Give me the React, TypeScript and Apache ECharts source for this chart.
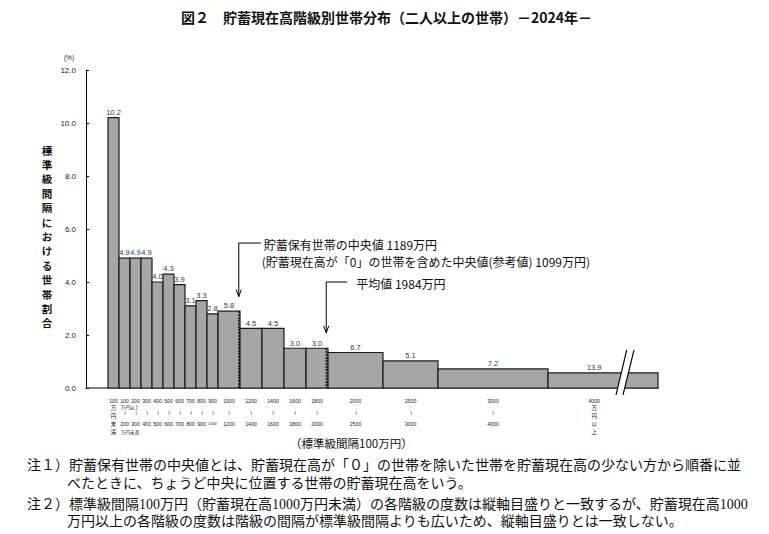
import React, { useEffect, useRef } from "react";
import * as echarts from "echarts";

// ---- data (万円 classes, share %) ----
const classLower = [0, 100, 200, 300, 400, 500, 600, 700, 800, 900, 1000, 1200, 1400, 1600, 1800, 2000, 2500, 3000, 4000];
const classUpper = [100, 200, 300, 400, 500, 600, 700, 800, 900, 1000, 1200, 1400, 1600, 1800, 2000, 2500, 3000, 4000, 5000];
const sharePct = [10.2, 4.9, 4.9, 4.9, 4.0, 4.3, 3.9, 3.1, 3.3, 2.8, 5.8, 4.5, 4.5, 3.0, 3.0, 6.7, 5.1, 7.2, 13.9];
const barHeight = [10.2, 4.9, 4.9, 4.9, 4.0, 4.3, 3.9, 3.1, 3.3, 2.8, 2.9, 2.25, 2.25, 1.5, 1.5, 1.34, 1.02, 0.72, 0.57];
const tickTop = ["100", "100", "200", "300", "400", "500", "600", "700", "800", "900", "1000", "1200", "1400", "1600", "1800", "2000", "2500", "3000", "4000"];
const tickBottom = ["", "200", "300", "400", "500", "600", "700", "800", "900", "1000", "1200", "1400", "1600", "1800", "2000", "2500", "3000", "4000", ""];
const medianValue = 1189;
const meanValue = 1984;
const breakAt = 4700;
const lastLabelCenter = 4420;

const TITLE = "図２　貯蓄現在高階級別世帯分布（二人以上の世帯）－2024年－";
const YTITLE = "標準級間隔における世帯割合";
const XTITLE = "（標準級間隔100万円）";
const MEDIAN_L1 = "貯蓄保有世帯の中央値 1189万円";
const MEDIAN_L2 = "(貯蓄現在高が「0」の世帯を含めた中央値(参考値) 1099万円)";
const MEAN_L1 = "平均値 1984万円";
const NOTES = [
  "注１）貯蓄保有世帯の中央値とは、貯蓄現在高が「０」の世帯を除いた世帯を貯蓄現在高の少ない方から順番に並",
  "べたときに、ちょうど中央に位置する世帯の貯蓄現在高をいう。",
  "注２）標準級間隔100万円（貯蓄現在高1000万円未満）の各階級の度数は縦軸目盛りと一致するが、貯蓄現在高1000",
  "万円以上の各階級の度数は階級の間隔が標準級間隔よりも広いため、縦軸目盛りとは一致しない。",
];

const SANS = '"Noto Sans CJK JP", "Noto Sans", sans-serif';
const ARIAL = '"Liberation Sans", "Noto Sans CJK JP", sans-serif';
const SERIF = '"Liberation Serif", "Noto Sans CJK JP", serif';

function heightAt(v: number): number {
  for (let i = 0; i < classLower.length; i++) {
    if (v >= classLower[i] && v < classUpper[i]) return barHeight[i];
  }
  return 0;
}

export default function App() {
  const ref = useRef<HTMLDivElement>(null);
  useEffect(() => {
    if (!ref.current) return;
    const chart = echarts.init(ref.current, undefined, { renderer: "svg" });

    const barData = classLower.map((lo, i) => [lo, classUpper[i], barHeight[i], sharePct[i], i]);
    const markerData = [
      [medianValue, heightAt(medianValue)],
      [meanValue, heightAt(meanValue)],
    ];

    const option: any = {
      animation: false,
      backgroundColor: "#ffffff",
      grid: { left: 86, right: 111, top: 70, bottom: 146, containLabel: false },
      xAxis: {
        type: "value",
        min: -200,
        max: 5000,
        axisLine: { show: true, onZero: false, lineStyle: { color: "#7f7f7f", width: 2 } },
        axisTick: { show: false },
        axisLabel: { show: false },
        splitLine: { show: false },
      },
      yAxis: {
        type: "value",
        min: 0,
        max: 12,
        interval: 2,
        axisLine: { show: true, onZero: false, lineStyle: { color: "#000", width: 1 } },
        axisTick: { show: true, inside: true, length: 3, lineStyle: { color: "#000" } },
        axisLabel: {
          formatter: (v: number) => v.toFixed(1),
          fontSize: 8,
          color: "#222",
          fontFamily: ARIAL,
          margin: 10,
        },
        splitLine: { show: false },
      },
      series: [
        {
          type: "custom",
          name: "bars",
          data: barData,
          encode: { x: [0, 1], y: 2 },
          z: 3,
          renderItem: (params: any, api: any) => {
            const lo = api.value(0);
            const hi = api.value(1);
            const h = api.value(2);
            const share = api.value(3);
            const idx = api.value(4);
            const p0 = api.coord([lo, h]);
            const p1 = api.coord([hi, 0]);
            const isLast = idx === classLower.length - 1;
            const cx = api.coord([isLast ? lastLabelCenter : (lo + hi) / 2, 0])[0];
            return {
              type: "group",
              children: [
                {
                  type: "rect",
                  shape: { x: p0[0], y: p0[1], width: p1[0] - p0[0], height: p1[1] - p0[1] },
                  style: { fill: "#a6a6a6", stroke: "#1a1a1a", lineWidth: 1.2 },
                },
                {
                  type: "text",
                  x: cx,
                  y: p0[1] - 1.5,
                  style: {
                    text: Number(share).toFixed(1),
                    align: "center",
                    verticalAlign: "bottom",
                    fontSize: 7.5,
                    fontFamily: ARIAL,
                    fill: "#2a3560",
                  },
                },
              ],
            };
          },
        },
        {
          type: "custom",
          name: "xlabels",
          data: barData,
          encode: { x: [0, 1], y: 2 },
          z: 3,
          silent: true,
          renderItem: (params: any, api: any) => {
            const lo = api.value(0);
            const hi = api.value(1);
            const idx = api.value(4);
            const isLast = idx === classLower.length - 1;
            const base = api.coord([0, 0])[1];
            const cx = api.coord([isLast ? lastLabelCenter : (lo + hi) / 2, 0])[0];
            const t = (text: string, x: number, y: number, fs = 5.2) => ({
              type: "text",
              x,
              y,
              style: { text, align: "center", verticalAlign: "middle", fontSize: fs, fontFamily: ARIAL, fill: "#222" },
            });
            const kids: any[] = [t(tickTop[idx], cx, base + 13)];
            if (idx === 0) {
              kids.push(t("万", cx, base + 20, 5.5), t("円", cx, base + 28, 5.5), t("未", cx, base + 36, 5.5), t("満", cx, base + 44, 5.5));
            } else if (isLast) {
              kids.push(t("万", cx, base + 20, 5.5), t("円", cx, base + 28, 5.5), t("以", cx, base + 36, 5.5), t("上", cx, base + 44, 5.5));
            } else {
              kids.push(t("≀", cx, base + 25, 6));
              kids.push(t(tickBottom[idx], cx, base + 36, idx === 9 ? 3.8 : 5.2));
            }
            if (idx === 1) {
              const bx = api.coord([hi, 0])[0];
              kids.push(t("万円以上", bx, base + 19, 4.5), t("万円未満", bx, base + 44, 4.5));
            }
            return { type: "group", children: kids };
          },
        },
        {
          type: "custom",
          name: "markers",
          data: markerData,
          encode: { x: 0, y: 1 },
          z: 4,
          silent: true,
          renderItem: (params: any, api: any) => {
            const v = api.value(0);
            const h = api.value(1);
            const top = api.coord([v, h]);
            const bot = api.coord([v, 0]);
            const x = top[0];
            const isMedian = params.dataIndex === 0;
            const aTop = api.coord([v, isMedian ? 5.47 : 4.0])[1];
            const aTip = api.coord([v, isMedian ? 3.45 : 2.08])[1];
            const hookLen = isMedian ? 22 : 21;
            const txtX = x + (isMedian ? 25 : 30);
            const kids: any[] = [
              {
                type: "line",
                shape: { x1: x, y1: top[1], x2: x, y2: bot[1] },
                style: { stroke: "#000", lineWidth: 1.6, lineDash: [1.6, 1.4] },
              },
              {
                type: "polyline",
                shape: { points: [[x + hookLen, aTop], [x, aTop], [x, aTip]] },
                style: { stroke: "#000", lineWidth: 1, fill: null },
              },
              {
                type: "polyline",
                shape: { points: [[x - 2.6, aTip - 7], [x, aTip], [x + 2.6, aTip - 7]] },
                style: { stroke: "#000", lineWidth: 1, fill: null },
              },
            ];
            const txt = (text: string, xx: number, yy: number) => ({
              type: "text",
              x: xx,
              y: yy,
              style: { text, align: "left", verticalAlign: "middle", fontSize: 12, fontFamily: SANS, fill: "#111" },
            });
            if (isMedian) {
              kids.push(txt(MEDIAN_L1, txtX, aTop + 1), txt(MEDIAN_L2, txtX - 2, aTop + 18));
            } else {
              kids.push(txt(MEAN_L1, txtX, aTop + 1));
            }
            return { type: "group", children: kids };
          },
        },
        {
          type: "custom",
          name: "break",
          data: [[breakAt, 0]],
          encode: { x: 0, y: 1 },
          z: 5,
          silent: true,
          renderItem: (params: any, api: any) => {
            const p = api.coord([api.value(0), 0]);
            const x = p[0];
            const y = p[1];
            const l1t = [x + 1.7, y - 38];
            const l1b = [x - 9, y + 7];
            const l2t = [x + 9, y - 38];
            const l2b = [x - 2, y + 7];
            return {
              type: "group",
              children: [
                {
                  type: "polygon",
                  shape: { points: [l1t, l2t, l2b, l1b] },
                  style: { fill: "#ffffff", stroke: null },
                },
                { type: "line", shape: { x1: l1t[0], y1: l1t[1], x2: l1b[0], y2: l1b[1] }, style: { stroke: "#000", lineWidth: 1.1 } },
                { type: "line", shape: { x1: l2t[0], y1: l2t[1], x2: l2b[0], y2: l2b[1] }, style: { stroke: "#000", lineWidth: 1.1 } },
              ],
            };
          },
        },
      ],
      graphic: [
        {
          type: "text",
          x: 181,
          y: 17,
          style: { text: TITLE, fontSize: 14, fontWeight: "bold", fontFamily: SANS, fill: "#111", align: "left", verticalAlign: "middle" },
        },
        {
          type: "text",
          x: 69,
          y: 57,
          style: { text: "(%)", fontSize: 6.5, fontFamily: ARIAL, fill: "#222", align: "center", verticalAlign: "middle" },
        },
        ...YTITLE.split("").map((ch, i) => ({
          type: "text",
          x: 47,
          y: 150 + i * 14.4,
          style: {
            text: ch,
            fontSize: 10.5,
            lineHeight: 14,
            fontWeight: "bold",
            fontFamily: SANS,
            fill: "#111",
            align: "center",
            verticalAlign: "middle",
          },
        })),
        {
          type: "text",
          x: 290,
          y: 443,
          style: { text: XTITLE, fontSize: 11.5, fontFamily: SANS, fill: "#111", align: "left", verticalAlign: "middle" },
        },
        ...NOTES.map((n, i) => ({
          type: "text",
          x: i % 2 === 0 ? 27 : 67,
          y: [465, 483, 504, 521][i],
          style: { text: n, fontSize: 14, fontFamily: SERIF, fill: "#111", align: "left", verticalAlign: "middle" },
        })),
      ],
    };
    chart.setOption(option);
    return () => chart.dispose();
  }, []);
  return (
    <div
      ref={ref}
      style={{ position: "fixed", left: 0, top: 0, width: 769, height: 534, background: "#fff" }}
    />
  );
}
